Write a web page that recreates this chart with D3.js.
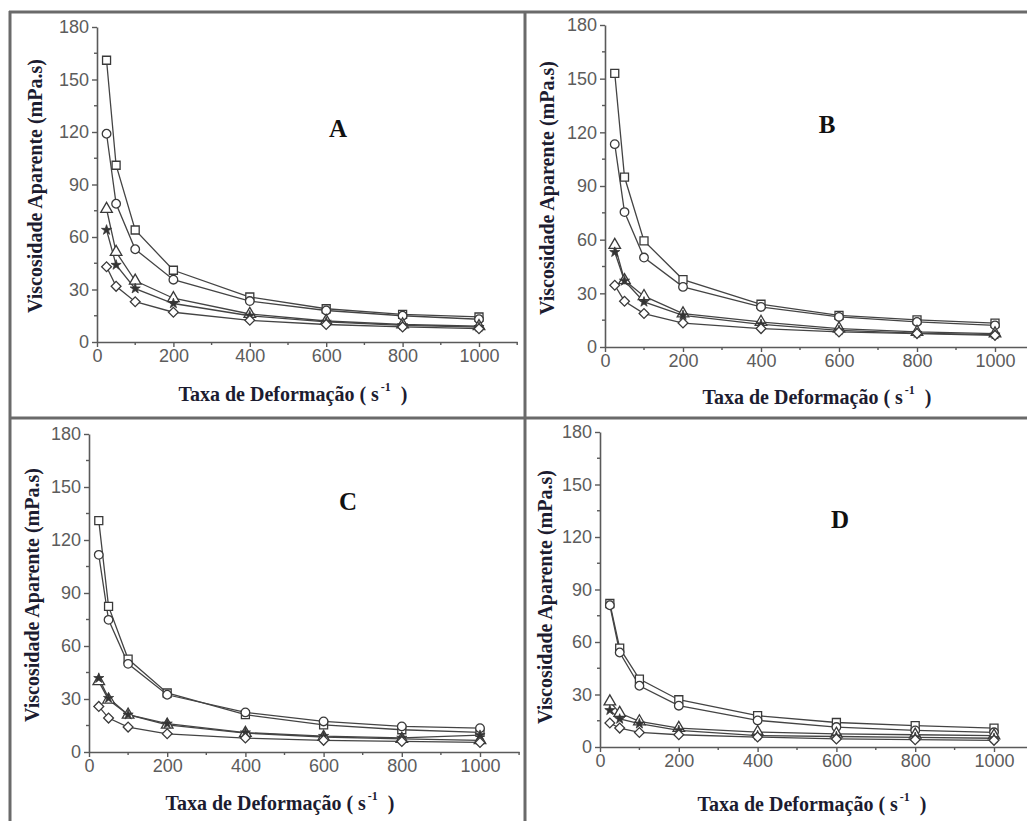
<!DOCTYPE html>
<html>
<head>
<meta charset="utf-8">
<script src="https://cdn.jsdelivr.net/npm/d3@7"></script>
<style>
  body { margin: 0; background: #fff; }
  svg { display: block; }
</style>
</head>
<body>
<svg id="chart" width="1027" height="821"></svg>
<script>
// shear rates (s^-1), same for every panel
const rates = [25, 50, 100, 200, 400, 600, 800, 1000];
// marker order of the five series, top to bottom
const markers = ['square', 'circle', 'triangle', 'star', 'diamond'];

// apparent viscosity (mPa.s)
const panelA = [
    [161, 101, 64, 41, 25.7, 19, 15.8, 14.3],
    [119, 79, 53, 35.6, 23.4, 18, 15, 13],
    [76, 51.4, 35, 25, 16, 12, 10, 9],
    [64, 44, 30.5, 22, 15, 11.5, 9.5, 8.5],
    [43, 31.8, 23, 17, 12.4, 10, 8.6, 7.6]
];
const panelB = [
    [153, 95, 59.3, 37.7, 23.9, 17.7, 15.2, 13.4],
    [113.4, 75.4, 50, 33.6, 22.4, 16.8, 14, 12.1],
    [57, 37.3, 28.4, 18.7, 14, 10.3, 8.4, 7.5],
    [53, 37, 25.2, 17.7, 12.7, 9.3, 7.8, 6.9],
    [34.5, 25.6, 18.7, 13.4, 10.3, 8.4, 7.5, 6.5]
];
const panelC = [
    [131, 82.4, 52.6, 33.4, 21.1, 15.4, 12.6, 11.1],
    [111.6, 74.8, 49.9, 32.4, 22.4, 17.3, 14.5, 13.5],
    [40, 29.6, 21.1, 15.4, 10.7, 8.5, 7.4, 6.6],
    [41.8, 30.5, 21.1, 16, 11, 9, 8, 9.5],
    [25.8, 19.2, 14.1, 10.3, 7.9, 6.6, 6, 5.4]
];
const panelD = [
    [82, 56.5, 38.8, 27, 17.9, 14, 12.2, 10.8],
    [81, 54, 35, 23.6, 15.2, 11.4, 9.5, 8.4],
    [26, 19.4, 14.6, 10.8, 8.5, 7.5, 7, 6.5],
    [21, 16, 13.3, 9.5, 6.5, 6, 5.5, 5],
    [13.7, 10.8, 8.3, 7, 5.7, 4.6, 4.2, 3.8]
];
const panelLetters = ['A', 'B', 'C', 'D'];

const yTicks = [0, 30, 60, 90, 120, 150, 180];
const yMinor = [15, 45, 75, 105, 135, 165];
const xTicks = [0, 200, 400, 600, 800, 1000];
const xMinor = [100, 300, 500, 700, 900, 1100];

// where each panel sits on the page
const layout = [
    { data: panelA, x0: 97, x1000: 479, y0: 342, y180: 27, letter: [338, 137], ylab: [35, 186], xlab: [293, 401] },
    { data: panelB, x0: 605, x1000: 995, y0: 347, y180: 25, letter: [827, 133], ylab: [547, 188], xlab: [817, 404] },
    { data: panelC, x0: 89, x1000: 480, y0: 752, y180: 434, letter: [348, 510], ylab: [32, 595], xlab: [280, 810] },
    { data: panelD, x0: 600, x1000: 994, y0: 747, y180: 432, letter: [840, 528], ylab: [545, 597], xlab: [812, 811] }
];

const svg = d3.select('#chart');
const axisColor = '#5a5a5a';
const titleColor = '#1c1c30';
const serif = "'Liberation Serif', 'Times New Roman', serif";

// table frame around the four panels
const frame = svg.append('g').attr('stroke', '#6a6a6a').attr('stroke-width', 3);
frame.append('line').attr('x1', 9).attr('x2', 1027).attr('y1', 12).attr('y2', 12);
frame.append('line').attr('x1', 10).attr('x2', 10).attr('y1', 11).attr('y2', 821);
frame.append('line').attr('x1', 525).attr('x2', 525).attr('y1', 11).attr('y2', 821);
frame.append('line').attr('x1', 9).attr('x2', 1027).attr('y1', 418).attr('y2', 418);

const symbolFor = {
    square: d3.symbol().type(d3.symbolSquare).size(64),
    circle: d3.symbol().type(d3.symbolCircle).size(58),
    triangle: d3.symbol().type(d3.symbolTriangle).size(58),
    star: d3.symbol().type(d3.symbolStar).size(32),
    diamond: d3.symbol().type(d3.symbolSquare).size(48)
};

layout.forEach(function (p, pi) {
    const x = d3.scaleLinear().domain([0, 1000]).range([p.x0, p.x1000]);
    const y = d3.scaleLinear().domain([0, 180]).range([p.y0, p.y180]);
    const g = svg.append('g');

    // y axis
    const yAxis = g.append('g')
        .attr('transform', `translate(${p.x0},0)`)
        .call(d3.axisLeft(y).tickValues(yTicks).tickSize(5).tickPadding(3).tickSizeOuter(0));
    yAxis.append('g').selectAll('line')
        .data(yMinor).enter().append('line')
        .attr('x1', -3).attr('x2', 0)
        .attr('y1', d => y(d)).attr('y2', d => y(d));

    // x axis, runs on to 1100
    const xAxis = g.append('g')
        .attr('transform', `translate(0,${p.y0})`)
        .call(d3.axisBottom(x.copy().domain([0, 1100]).range([p.x0, x(1100)]))
            .tickValues(xTicks).tickFormat(d3.format('d')).tickSize(5).tickPadding(2).tickSizeOuter(0));
    xAxis.append('g').selectAll('line')
        .data(xMinor).enter().append('line')
        .attr('y1', 0).attr('y2', 3)
        .attr('x1', d => x(d)).attr('x2', d => x(d));

    [yAxis, xAxis].forEach(function (ax) {
        ax.select('.domain').attr('stroke', axisColor).attr('stroke-width', 1.6);
        ax.selectAll('line').attr('stroke', axisColor).attr('stroke-width', 1.4);
        ax.selectAll('text')
            .attr('fill', '#5c5c5c')
            .style('font-family', "'Liberation Sans', Arial, sans-serif")
            .style('font-size', '18px');
    });

    // series lines
    const line = d3.line()
        .x((d, i) => x(rates[i]))
        .y(d => y(d));
    g.selectAll('path.series')
        .data(p.data).enter().append('path')
        .attr('class', 'series')
        .attr('d', line)
        .attr('fill', 'none')
        .attr('stroke', '#444')
        .attr('stroke-width', 1.3);

    // markers
    p.data.forEach(function (vals, si) {
        const kind = markers[si];
        g.append('g').selectAll('path')
            .data(vals).enter().append('path')
            .attr('d', symbolFor[kind])
            .attr('transform', (d, i) => `translate(${x(rates[i])},${y(d)})` + (kind === 'diamond' ? ' rotate(45)' : ''))
            .attr('fill', kind === 'star' ? '#333' : '#fff')
            .attr('stroke', '#3a3a3a')
            .attr('stroke-width', kind === 'star' ? 0.8 : 1.3);
    });

    // panel letter
    g.append('text')
        .attr('x', p.letter[0]).attr('y', p.letter[1])
        .attr('text-anchor', 'middle')
        .style('font-family', serif)
        .style('font-weight', 'bold')
        .style('font-size', '25px')
        .attr('fill', '#111')
        .text(panelLetters[pi]);

    // y title
    g.append('text')
        .attr('transform', `translate(${p.ylab[0]},${p.ylab[1]}) rotate(-90)`)
        .attr('text-anchor', 'middle')
        .attr('dy', '0.35em')
        .style('font-family', serif)
        .style('font-weight', 'bold')
        .style('font-size', '20px')
        .attr('fill', titleColor)
        .text('Viscosidade Aparente (mPa.s)');

    // x title with superscript
    const xt = g.append('text')
        .attr('x', p.xlab[0]).attr('y', p.xlab[1])
        .attr('text-anchor', 'middle')
        .style('font-family', serif)
        .style('font-weight', 'bold')
        .style('font-size', '20px')
        .attr('fill', titleColor);
    xt.append('tspan').text('Taxa de Deformação ( s');
    xt.append('tspan').attr('dy', -10).attr('dx', 2).style('font-size', '12px').text('-1');
    xt.append('tspan').attr('dy', 10).text('\u00a0 )');
});
</script>
</body>
</html>
